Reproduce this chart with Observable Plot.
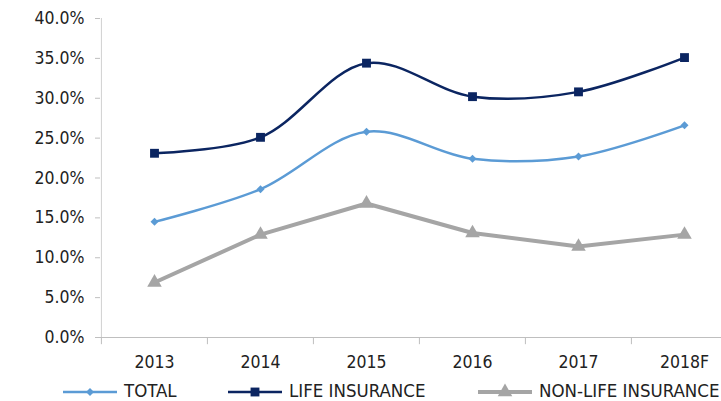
<!DOCTYPE html>
<html><head><meta charset="utf-8">
<script src="https://cdn.jsdelivr.net/npm/d3@7"></script>
<script src="https://cdn.jsdelivr.net/npm/@observablehq/plot@0.6"></script>
<style>
html,body{margin:0;padding:0;background:#fff;}
body{width:721px;height:401px;overflow:hidden;position:relative;font-family:"DejaVu Sans Condensed","DejaVu Sans",sans-serif;}
#legend{position:absolute;left:0;top:380px;width:721px;height:21px;}
.item{position:absolute;top:0;height:21px;display:flex;align-items:center;white-space:nowrap;font-size:18.5px;line-height:21px;color:#222;}
.item svg{display:block;margin-right:5px;}
</style></head><body>
<div id="chart"></div>
<div id="legend"></div>
<script>
const years = ["2013", "2014", "2015", "2016", "2017", "2018F"];
const total = [14.5, 18.6, 25.8, 22.4, 22.7, 26.6];
const life = [23.1, 25.1, 34.4, 30.2, 30.8, 35.1];
const nonLife = [6.9, 12.9, 16.8, 13.1, 11.4, 12.9];
const yTicks = [0, 5, 10, 15, 20, 25, 30, 35, 40];
const seriesNames = ["TOTAL", "LIFE INSURANCE", "NON-LIFE INSURANCE"];
const seriesColors = ["#5B9BD5", "#0B2561", "#A5A5A5"];

const rows = years.map((y, i) => ({year: y, total: total[i], life: life[i], nonLife: nonLife[i]}));
const W = 721, H = 380;
const xRange = [100, 737];
const step = (xRange[1] - xRange[0]) / years.length;
const axisColor = "#BFBFBF";
const font = '"DejaVu Sans Condensed","DejaVu Sans",sans-serif';

const chart = Plot.plot({
  width: W, height: H,
  marginTop: 18, marginBottom: 43, marginLeft: 100, marginRight: 0,
  style: {fontFamily: font, fontSize: "17px", color: "#222", background: "#fff", overflow: "visible"},
  x: {type: "point", domain: years, range: xRange, padding: 0.5, label: null},
  y: {domain: [0, 40], label: null},
  marks: [
    Plot.ruleY([0], {stroke: axisColor, strokeWidth: 1}),
    Plot.ruleX([years[0]], {dx: -step / 2, y1: 0, y2: 40, stroke: "#D0D0D0", strokeWidth: 1}),
    Plot.ruleX(years, {x: d => d, dx: -step / 2, y1: 0, y2: -0.9, stroke: axisColor}),
    Plot.axisY(yTicks, {tickSize: 5, tickPadding: 11, stroke: axisColor, fill: "#222", fontSize: 17.5, label: null, tickFormat: d => d.toFixed(1) + "%"}),
    Plot.axisX({tickSize: 0, tickPadding: 18, fill: "#222", fontSize: 17.5, label: null}),
    Plot.line(rows, {x: "year", y: "nonLife", stroke: seriesColors[2], strokeWidth: 4, curve: "linear"}),
    Plot.dot(rows, {x: "year", y: "nonLife", symbol: "triangle", r: 5.4, fill: seriesColors[2], stroke: "none"}),
    Plot.line(rows, {x: "year", y: "total", stroke: seriesColors[0], strokeWidth: 2.5, curve: "catmull-rom"}),
    Plot.dot(rows, {x: "year", y: "total", symbol: "diamond2", r: 3.6, fill: seriesColors[0], stroke: "none"}),
    Plot.line(rows, {x: "year", y: "life", stroke: seriesColors[1], strokeWidth: 2.5, curve: "catmull-rom"}),
    Plot.dot(rows, {x: "year", y: "life", symbol: "square", r: 5, fill: seriesColors[1], stroke: "none"})
  ]
});
document.getElementById("chart").appendChild(chart);

// legend
const legend = d3.select("#legend");
const legendX = [63, 228, 478];
const symbols = [[d3.symbolDiamond2, 3.6], [d3.symbolSquare, 5], [d3.symbolTriangle, 5.4]];
const widths = [2.5, 2.5, 4];
seriesNames.forEach((name, i) => {
  const it = legend.append("div").attr("class", "item").style("left", legendX[i] + "px");
  const s = it.append("svg").attr("width", 56).attr("height", 21);
  s.append("line").attr("x1", 0).attr("x2", 54).attr("y1", 12).attr("y2", 12)
    .attr("stroke", seriesColors[i]).attr("stroke-width", widths[i]);
  s.append("path").attr("transform", "translate(27,12)")
    .attr("d", d3.symbol(symbols[i][0], Math.PI * symbols[i][1] ** 2)())
    .attr("fill", seriesColors[i]);
  it.append("span").text(name);
});
</script>
</body></html>
